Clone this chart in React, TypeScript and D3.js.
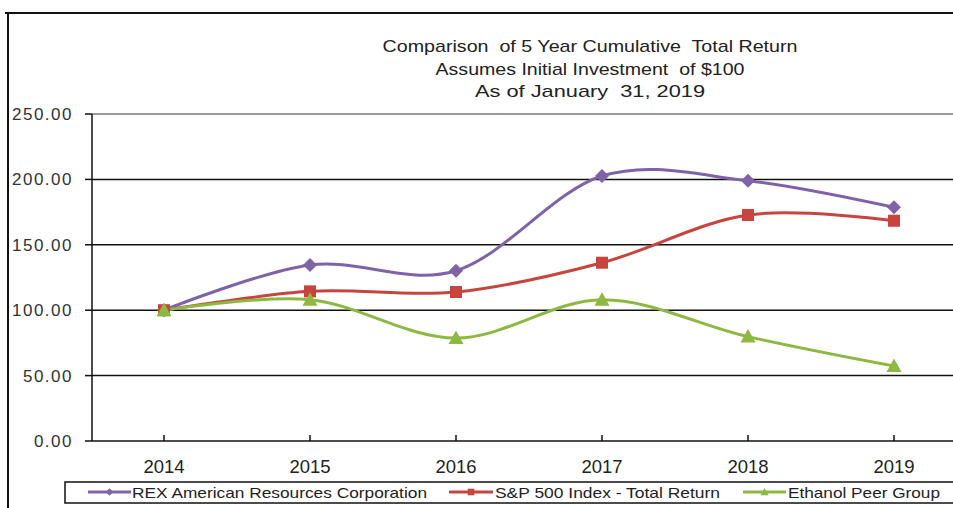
import React from "react";
import * as d3 from "d3";

const years = ["2014", "2015", "2016", "2017", "2018", "2019"];
const rexValues = [100, 134.6, 130.2, 202.6, 199.0, 178.7];
const spValues = [100, 114.4, 113.9, 136.3, 172.8, 168.4];
const ethanolValues = [100, 108.0, 78.7, 108.0, 79.8, 57.3];
const yTicks = [0, 50, 100, 150, 200, 250];
const titleLines = [
  "Comparison  of 5 Year Cumulative  Total Return",
  "Assumes Initial Investment  of $100",
  "As of January  31, 2019",
];
const seriesNames = [
  "REX American Resources Corporation",
  "S&P 500 Index - Total Return",
  "Ethanol Peer Group",
];

const W = 953;
const H = 508;
const colors = ["#7F62A8", "#C8453F", "#8DB842"];
const font = "Arial, 'Liberation Sans', sans-serif";

export default function App() {
  const x = d3.scalePoint<string>().domain(years).range([164, 894]);
  const y = d3.scaleLinear().domain([0, 250]).range([441, 114]);
  const line = d3
    .line<number>()
    .x((_, i) => x(years[i]) as number)
    .y((d) => y(d))
    .curve(d3.curveCardinal.tension(0));

  const series = [rexValues, spValues, ethanolValues];

  const marker = (k: number, cx: number, cy: number, key: string, s = 1) => {
    const c = colors[k];
    if (k === 0) {
      const r = 7 * s;
      return (
        <path key={key} d={`M${cx},${cy - r}L${cx + r},${cy}L${cx},${cy + r}L${cx - r},${cy}Z`} fill={c} />
      );
    }
    if (k === 1) {
      const r = 6 * s;
      return <rect key={key} x={cx - r} y={cy - r} width={2 * r} height={2 * r} fill={c} />;
    }
    const r = 7.5 * s;
    return (
      <path key={key} d={`M${cx},${cy - r}L${cx + r},${cy + r * 0.8}L${cx - r},${cy + r * 0.8}Z`} fill={c} />
    );
  };

  const titleWidths = [415, 309, 230];
  const legendItems = [
    { x0: 88, x1: 131, tx: 132, tw: 295 },
    { x0: 449, x1: 493, tx: 495, tw: 225 },
    { x0: 743, x1: 786, tx: 788, tw: 152 },
  ];

  return (
    <svg
      width={W}
      height={H}
      style={{ position: "absolute", left: 0, top: 0, background: "#fff" }}
      fontFamily={font}
    >
      <rect x={0} y={0} width={W} height={H} fill="#fff" />
      {/* frame */}
      <line x1={5} x2={W} y1={13} y2={13} stroke="#111" strokeWidth={2} />
      <line x1={8} x2={8} y1={13} y2={H} stroke="#111" strokeWidth={2} />

      {/* title */}
      {titleLines.map((t, i) => (
        <text
          key={i}
          x={590}
          y={52 + i * 22.5}
          textAnchor="middle"
          fontSize={17}
          fill="#222"
          textLength={titleWidths[i]}
          lengthAdjust="spacingAndGlyphs"
          style={{ whiteSpace: "pre" }}
        >
          {t}
        </text>
      ))}

      {/* gridlines */}
      {yTicks.map((t) => (
        <g key={t}>
          {t > 0 && (
            <line
              x1={92}
              x2={W}
              y1={y(t)}
              y2={y(t)}
              stroke={t === 250 ? "#999" : "#111"}
              strokeWidth={t === 250 ? 2 : 1.5}
            />
          )}
          <line x1={85} x2={92} y1={y(t)} y2={y(t)} stroke="#111" strokeWidth={1.5} />
          <text
            x={73}
            y={y(t) + 6}
            textAnchor="end"
            fontSize={17}
            fill="#333"
            letterSpacing={1.5}
          >
            {t.toFixed(2)}
          </text>
        </g>
      ))}

      {/* axes */}
      <line x1={92} x2={92} y1={114} y2={441} stroke="#111" strokeWidth={1.5} />
      <line x1={92} x2={W} y1={441} y2={441} stroke="#111" strokeWidth={1.5} />
      {years.map((yr) => (
        <g key={yr}>
          <line x1={x(yr)} x2={x(yr)} y1={435} y2={441} stroke="#111" strokeWidth={1.5} />
          <text x={x(yr)} y={473} textAnchor="middle" fontSize={18.5} fill="#222">
            {yr}
          </text>
        </g>
      ))}

      {/* series */}
      {series.map((vals, k) => (
        <path key={"l" + k} d={line(vals) || ""} fill="none" stroke={colors[k]} strokeWidth={3} />
      ))}
      {series.map((vals, k) =>
        vals.map((v, i) => marker(k, x(years[i]) as number, y(v), `m${k}-${i}`))
      )}

      {/* legend */}
      <rect x={65} y={482} width={890} height={21} fill="#fff" stroke="#111" strokeWidth={1.5} />
      {legendItems.map((it, k) => (
        <g key={"lg" + k}>
          <line x1={it.x0} x2={it.x1} y1={492} y2={492} stroke={colors[k]} strokeWidth={3} />
          {marker(k, (it.x0 + it.x1) / 2, 492, "lm" + k, 0.55)}
          <text
            x={it.tx}
            y={498}
            fontSize={15}
            fill="#222"
            textLength={it.tw}
            lengthAdjust="spacingAndGlyphs"
          >
            {seriesNames[k]}
          </text>
        </g>
      ))}
    </svg>
  );
}
